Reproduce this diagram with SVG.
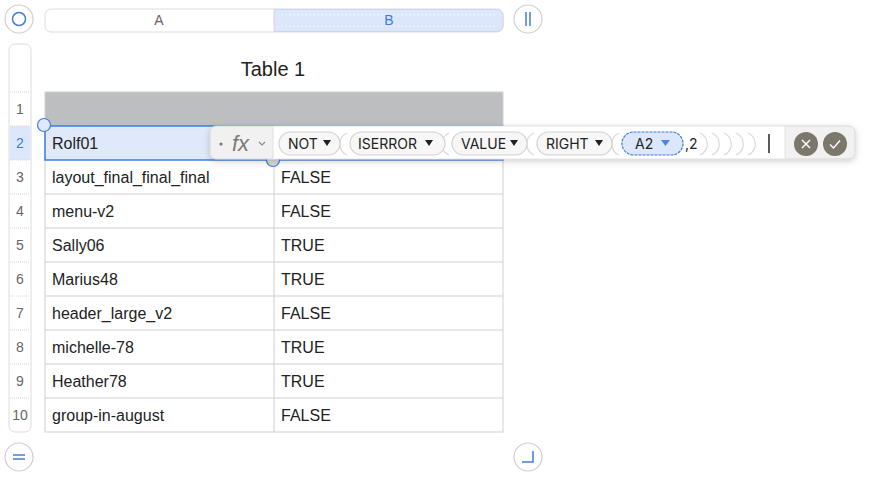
<svg xmlns="http://www.w3.org/2000/svg" width="880" height="479" viewBox="0 0 880 479">
<defs>
<style>
.t{font-family:"Liberation Sans",Arial,sans-serif;font-size:16px;fill:#222}
.rn{font-family:"Liberation Sans",Arial,sans-serif;font-size:14px;fill:#666;text-anchor:middle}
.g{stroke:#cfcfd2;stroke-width:1;fill:none}
.ctl{fill:#fff;stroke:#cfcfcf;stroke-width:1.2}
.bl{stroke:#3f7de0;stroke-width:1.5;fill:none}
.pill{fill:#f7f7f7;stroke:#d2d2d2;stroke-width:1.2}
.tok{font-family:"Inter","Liberation Sans",sans-serif;font-size:14px;fill:#222}
.par{fill:none;stroke:#d8d8d8;stroke-width:1.2}
</style>
<filter id="sh" x="-5%" y="-40%" width="110%" height="180%">
<feDropShadow dx="0" dy="2" stdDeviation="3" flood-color="#000" flood-opacity="0.18"/>
</filter>
</defs>

<g id="controls">
<circle class="ctl" cx="19" cy="19" r="14"/>
<circle cx="19" cy="19" r="6.5" class="bl"/>
<circle class="ctl" cx="528" cy="19" r="14"/>
<line x1="526" y1="12" x2="526" y2="26" class="bl"/>
<line x1="530" y1="12" x2="530" y2="26" class="bl"/>
<circle class="ctl" cx="19" cy="457" r="14"/>
<line x1="13" y1="455" x2="25" y2="455" class="bl"/>
<line x1="13" y1="459" x2="25" y2="459" class="bl"/>
<circle class="ctl" cx="528" cy="457" r="14"/>
<path d="M533 451 V462 H522" class="bl"/>
</g>

<g id="column-header">
<rect x="45" y="9" width="458" height="23" rx="6" fill="#fff" stroke="#dcdcdc"/>
<path d="M274 9.5 H497 A6 6 0 0 1 503 15.5 V25.5 A6 6 0 0 1 497 31.5 H274 Z" fill="#dce7fb" stroke="#c9d6ee"/>
<line x1="282" y1="15" x2="495" y2="15" stroke="#fff" stroke-dasharray="1 3"/>
<line x1="282" y1="26" x2="495" y2="26" stroke="#fff" stroke-dasharray="1 3"/>
<text x="159" y="25" class="rn">A</text>
<text x="389" y="25" class="rn" style="fill:#3f7de0">B</text>
</g>

<g id="row-header">
<rect x="9" y="44" width="22" height="388" rx="6" fill="#fff" stroke="#dcdcdc"/>
<rect x="9.5" y="126" width="21" height="34" fill="#dce7fb"/>
<g stroke="#d6d6d6" stroke-dasharray="1 1">
<line x1="10" y1="92" x2="30" y2="92"/><line x1="10" y1="126" x2="30" y2="126"/>
<line x1="10" y1="160" x2="30" y2="160"/><line x1="10" y1="194" x2="30" y2="194"/>
<line x1="10" y1="228" x2="30" y2="228"/><line x1="10" y1="262" x2="30" y2="262"/>
<line x1="10" y1="296" x2="30" y2="296"/><line x1="10" y1="330" x2="30" y2="330"/>
<line x1="10" y1="364" x2="30" y2="364"/><line x1="10" y1="398" x2="30" y2="398"/>
</g>
<text x="20" y="114" class="rn">1</text>
<text x="20" y="148" class="rn" style="fill:#3f7de0">2</text>
<text x="20" y="182" class="rn">3</text>
<text x="20" y="216" class="rn">4</text>
<text x="20" y="250" class="rn">5</text>
<text x="20" y="284" class="rn">6</text>
<text x="20" y="318" class="rn">7</text>
<text x="20" y="352" class="rn">8</text>
<text x="20" y="386" class="rn">9</text>
<text x="20" y="420" class="rn">10</text>
</g>

<g id="table">
<text x="273" y="76" text-anchor="middle" style="font-family:'Liberation Sans',Arial,sans-serif;font-size:20px;fill:#222">Table 1</text>
<rect x="45" y="92" width="458" height="34" fill="#bcbebf"/>
<rect x="45" y="126" width="229" height="34" fill="#dfe9f9"/>
<g class="g">
<rect x="45" y="92" width="458" height="340"/>
<line x1="274" y1="126" x2="274" y2="432"/>
<line x1="45" y1="194" x2="503" y2="194"/><line x1="45" y1="228" x2="503" y2="228"/>
<line x1="45" y1="262" x2="503" y2="262"/><line x1="45" y1="296" x2="503" y2="296"/>
<line x1="45" y1="330" x2="503" y2="330"/><line x1="45" y1="364" x2="503" y2="364"/>
<line x1="45" y1="398" x2="503" y2="398"/><line x1="274" y1="160" x2="503" y2="160"/>
</g>
<rect x="45" y="126" width="229" height="34" fill="none" stroke="#3f7de0" stroke-width="1.5"/>
<rect x="274" y="126" width="229" height="34" fill="none" stroke="#3f7de0" stroke-width="1.2"/>
<circle cx="44" cy="125" r="6.5" fill="#dfe9f9" stroke="#3f7de0" stroke-width="1.2"/>
<circle cx="273" cy="160" r="6.5" fill="#d8d8d8" stroke="#3f7de0" stroke-width="1.2"/>
<text x="52" y="149" class="t">Rolf01</text>
<text x="52" y="183" class="t">layout_final_final_final</text>
<text x="52" y="217" class="t">menu-v2</text>
<text x="52" y="251" class="t">Sally06</text>
<text x="52" y="285" class="t">Marius48</text>
<text x="52" y="319" class="t">header_large_v2</text>
<text x="52" y="353" class="t">michelle-78</text>
<text x="52" y="387" class="t">Heather78</text>
<text x="52" y="421" class="t">group-in-august</text>
<text x="281" y="183" class="t">FALSE</text>
<text x="281" y="217" class="t">FALSE</text>
<text x="281" y="251" class="t">TRUE</text>
<text x="281" y="285" class="t">TRUE</text>
<text x="281" y="319" class="t">FALSE</text>
<text x="281" y="353" class="t">TRUE</text>
<text x="281" y="387" class="t">TRUE</text>
<text x="281" y="421" class="t">FALSE</text>
</g>

<g id="formula-bar">
<rect x="210" y="126" width="645" height="33" rx="6" fill="#f1f1f1" stroke="#d6d6d6" filter="url(#sh)"/>
<rect x="273" y="126.5" width="512" height="32" fill="#fff"/>
<line x1="273" y1="127" x2="273" y2="158" stroke="#e0e0e0"/>
<line x1="785" y1="127" x2="785" y2="158" stroke="#e0e0e0"/>
<circle cx="221" cy="144" r="1.6" fill="#777"/>
<text x="232" y="151" style="font-family:'Liberation Sans',Arial,sans-serif;font-style:italic;font-size:22px;fill:#7a7a74">fx</text>
<path d="M259 142 L262 145 L265 142" fill="none" stroke="#888" stroke-width="1.1"/>

<g>
<path class="par" d="M347 133 A12 12 0 0 0 347 155"/>
<path class="par" d="M449 133 A12 12 0 0 0 449 155"/>
<path class="par" d="M534 133 A12 12 0 0 0 534 155"/>
<path class="par" d="M619 133 A12 12 0 0 0 619 155"/>
<path class="par" d="M700 133 A12 12 0 0 1 700 155"/>
<path class="par" d="M712 133 A12 12 0 0 1 712 155"/>
<path class="par" d="M724 133 A12 12 0 0 1 724 155"/>
<path class="par" d="M736 133 A12 12 0 0 1 736 155"/>
<path class="par" d="M748 133 A12 12 0 0 1 748 155"/>
</g>
<rect class="pill" x="279" y="132" width="61" height="23" rx="11.5"/>
<text x="288" y="149" class="tok">NOT</text>
<path d="M323 140 H331 L327 146 Z" fill="#222"/>
<rect class="pill" x="350" y="132" width="95" height="23" rx="11.5"/>
<text x="358" y="149" class="tok">ISERROR</text>
<path d="M425 140 H433 L429 146 Z" fill="#222"/>
<rect class="pill" x="452" y="132" width="75" height="23" rx="11.5"/>
<text x="461" y="149" class="tok">VALUE</text>
<path d="M510 140 H518 L514 146 Z" fill="#222"/>
<rect class="pill" x="537" y="132" width="75" height="23" rx="11.5"/>
<text x="546" y="149" class="tok">RIGHT</text>
<path d="M595 140 H603 L599 146 Z" fill="#222"/>
<rect x="622" y="132" width="61" height="23" rx="11.5" fill="#dce7fb" stroke="#3f7de0" stroke-width="1.2" stroke-dasharray="3 1"/>
<text x="635" y="149" class="tok">A2</text>
<path d="M661 140 H670 L665.5 146 Z" fill="#4a86e0"/>
<text x="685" y="149" class="tok">,2</text>
<line x1="769" y1="134" x2="769" y2="153" stroke="#222" stroke-width="1.5"/>

<circle cx="806" cy="144" r="12" fill="#7b776a"/>
<path d="M802 140 L810 148 M810 140 L802 148" stroke="#fff" stroke-width="1.4"/>
<circle cx="835" cy="144" r="12" fill="#7b776a"/>
<path d="M830 144.5 L833.5 148 L840 140.5" stroke="#fff" stroke-width="1.4" fill="none"/>
</g>
</svg>
